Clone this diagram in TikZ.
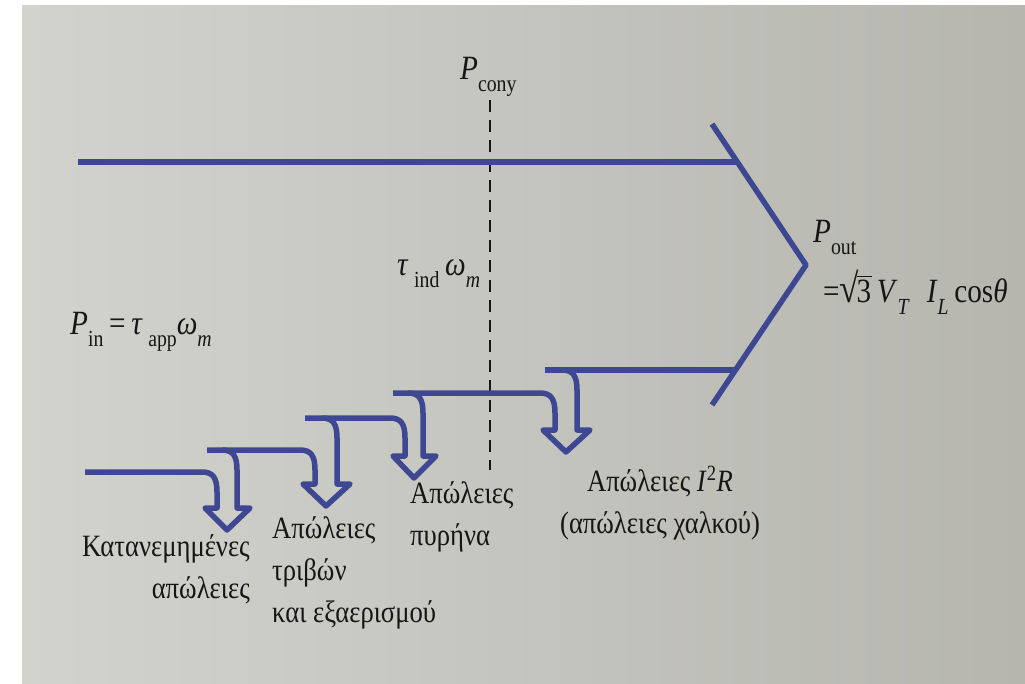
\RequirePackage{fix-cm}
\documentclass[tikz,border=0pt]{standalone}
\usepackage{fontspec}
\setmainfont{Liberation Serif}[FakeStretch=0.86]
\definecolor{flow}{RGB}{62,72,146}
\definecolor{ink}{RGB}{22,22,22}
\definecolor{paperA}{RGB}{210,211,205}
\definecolor{paperB}{RGB}{182,182,175}
\newcommand\dn[1]{\raisebox{-0.34em}{\fontsize{23}{23}\selectfont #1}}
\newcommand\rootthree{\raisebox{0pt}[0pt][0pt]{\fontsize{41}{41}\selectfont √}\kern-0.07em\raisebox{0pt}[0pt][0pt]{\rlap{\rule[0.75em]{0.46em}{0.045em}}}3}
\newcommand\lossarrow[6]{%
  \draw[flowline] (#1,#2) -- ({#3-15},#2) .. controls ({#3-4},#2) and (#3,{#2+6}) .. (#3,{#2+20})
    -- (#3,#6) -- ({#3-12},#6) -- ({(#3+#4)/2},{#6+22}) -- ({#4+13},#6) -- (#4,#6)
    -- (#4,{#5+20}) .. controls (#4,{#5+6}) and ({#4-4},#5) .. ({#4-15},#5);}
\begin{document}
\begin{tikzpicture}[x=1pt,y=-1pt,
  flowline/.style={draw=flow,line width=5.5pt,line join=round},
  greektext/.style={font=\fontsize{31}{42}\selectfont,text=ink,inner sep=0pt},
  mathtext/.style={font=\fontsize{34}{53}\selectfont,text=ink,inner sep=0pt},
  divider/.style={draw=ink,line width=2pt,dash pattern=on 12pt off 8pt}]
\useasboundingbox (0,0) rectangle (1025,684);
\fill[white] (0,0) rectangle (1025,684);
\shade[left color=paperA,right color=paperB] (22,6) rectangle (1025,684);

% dashed conversion line
\coordinate (convtop) at (490,100);
\coordinate (convbot) at (490,470);
\draw[divider] (convtop) -- (convbot);

% main power flow
\coordinate (intop) at (78,162);
\coordinate (tiptop) at (737,162);
\coordinate (chevA) at (712,124);
\coordinate (chevTip) at (806,265);
\coordinate (chevB) at (712,405);
\draw[flowline] (intop) -- (tiptop);
\draw[flowline] (chevA) -- (chevTip) -- (chevB);

% loss arrows
\lossarrow{85}{472}{217}{237}{450}{508}
\lossarrow{207}{450}{315}{337}{418}{484}
\lossarrow{305}{418}{405}{423}{393}{456}
\lossarrow{393}{393}{555}{577}{370}{430}
\draw[flowline] (545,370) -- (737,370);

% labels
\node[mathtext,anchor=base west] (pconv) at (460,80) {\textit{P}\dn{cony}};
\node[mathtext,anchor=base west] (tind) at (397,276) {\textit{τ}\,\dn{ind}\,\textit{ω}\dn{\textit{m}}};
\node[mathtext,anchor=base west] (pin) at (70,335) {\textit{P}\dn{in}\,=\,\textit{τ}\,\dn{app}\textit{ω}\dn{\textit{m}}};
\node[mathtext,anchor=base west] (pout) at (813,243) {\textit{P}\dn{out}};
\node[mathtext,anchor=base west] (poutval) at (823,303) {=\rootthree\,\textit{V}\dn{\textit{T}}\enspace\textit{I}\dn{\textit{L}}\,cos\textit{θ}};

\node[greektext,anchor=north east,align=right] (stray) at (250,534) {Κατανεμημένες\\απώλειες};
\node[greektext,anchor=north west,align=left] (fric) at (272,516) {Απώλειες\\τριβών\\και εξαερισμού};
\node[greektext,anchor=north west,align=left] (core) at (410,481) {Απώλειες\\πυρήνα};
\node[greektext,anchor=north,align=center] (copper) at (660,466) {Απώλειες \textit{I}\textsuperscript{2}\textit{R}\\(απώλειες χαλκού)};
\end{tikzpicture}
\end{document}
